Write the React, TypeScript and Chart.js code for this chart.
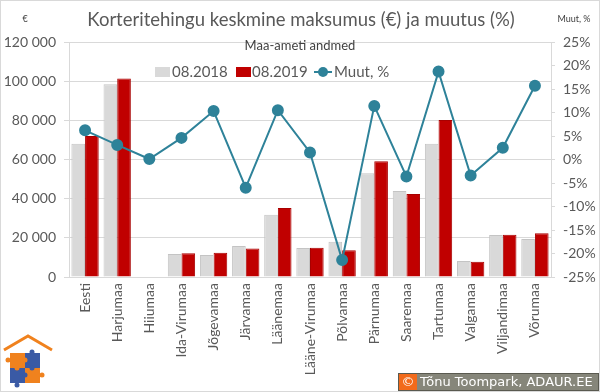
import React, { useEffect, useRef } from "react";
import { Chart, registerables } from "chart.js";

Chart.register(...registerables);

const categories = [
  "Eesti", "Harjumaa", "Hiiumaa", "Ida-Virumaa", "Jõgevamaa", "Järvamaa", "Läänemaa",
  "Lääne-Virumaa", "Põlvamaa", "Pärnumaa", "Saaremaa", "Tartumaa", "Valgamaa", "Viljandimaa", "Võrumaa",
];
const values2018 = [68000, 98400, null, 11700, 11200, 15800, 31800, 14800, 18000, 53000, 43900, 68000, 8200, 21400, 19400];
const values2019 = [72000, 101300, null, 12100, 12400, 14600, 35200, 15000, 13600, 59100, 42400, 80200, 7800, 21600, 22300];
const changePct = [6.2, 3.1, 0.1, 4.6, 10.3, -6.0, 10.5, 1.5, -21.4, 11.4, -3.6, 18.7, -3.4, 2.5, 15.7];

const titleText = "Korteritehingu keskmine maksumus (€) ja muutus (%)";
const subtitleText = "Maa-ameti andmed";
const leftUnit = "€";
const rightUnit = "Muut, %";
const creditText = "Tõnu Toompark, ADAUR.EE";

const FONT = "Lato";
const TXT = "#595959";
const GRID = "#d9d9d9";
const GREY_BAR = "#d9d9d9";
const RED_BAR = "#c00000";
const LINE = "#2e8299";

const fmtThousands = (v: number) => String(v).replace(/\B(?=(\d{3})+(?!\d))/g, " ");

const decorPlugin = {
  id: "decor",
  afterDraw(chart: any) {
    const ctx = chart.ctx as CanvasRenderingContext2D;
    const W = chart.width;
    const H = chart.height;
    ctx.save();
    // title
    ctx.fillStyle = TXT;
    ctx.textAlign = "center";
    ctx.textBaseline = "middle";
    ctx.font = `18.5px ${FONT}`;
    ctx.fillText(titleText, 301, 20);
    ctx.font = `13px ${FONT}`;
    ctx.fillStyle = "#404040";
    ctx.fillText(subtitleText, 300, 46);
    // units
    ctx.fillStyle = "#404040";
    ctx.font = `9px ${FONT}`;
    ctx.fillText(leftUnit, 25, 19);
    ctx.fillText(rightUnit, 574, 19);

    // legend
    const ds = chart.data.datasets;
    const ly = 72;
    ctx.font = `15px ${FONT}`;
    ctx.textAlign = "left";
    ctx.fillStyle = GREY_BAR;
    ctx.fillRect(155, ly - 5, 15, 10);
    ctx.fillStyle = TXT;
    ctx.fillText(ds[0].label, 172, ly);
    ctx.fillStyle = RED_BAR;
    ctx.fillRect(236, ly - 5, 15, 10);
    ctx.fillStyle = TXT;
    ctx.fillText(ds[1].label, 252, ly);
    ctx.strokeStyle = LINE;
    ctx.lineWidth = 2;
    ctx.beginPath();
    ctx.moveTo(314, ly);
    ctx.lineTo(332, ly);
    ctx.stroke();
    ctx.fillStyle = LINE;
    ctx.beginPath();
    ctx.arc(323, ly, 5, 0, Math.PI * 2);
    ctx.fill();
    ctx.fillStyle = TXT;
    ctx.fillText(ds[2].label, 334, ly);

    // logo
    const orange = "#f0821e";
    const blue = "#3a5aa5";
    ctx.strokeStyle = orange;
    ctx.lineWidth = 3;
    ctx.lineJoin = "miter";
    ctx.beginPath();
    ctx.moveTo(4, 350);
    ctx.lineTo(28, 336);
    ctx.lineTo(52, 350);
    ctx.stroke();
    const piece = (x: number, y: number, c: string) => {
      ctx.fillStyle = c;
      ctx.fillRect(x, y, 15, 15);
    };
    piece(10, 353, orange);
    piece(25, 353, blue);
    piece(10, 368, blue);
    piece(25, 368, orange);
    const knob = (x: number, y: number, c: string) => {
      ctx.fillStyle = c;
      ctx.beginPath();
      ctx.arc(x, y, 2.5, 0, Math.PI * 2);
      ctx.fill();
    };
    knob(25, 360, orange);
    knob(32, 368, blue);
    knob(17, 368, orange);
    knob(25, 375, blue);
    knob(8, 360, orange);
    knob(42, 375, orange);
    knob(17, 385, blue);
    knob(32, 352, blue);

    // credit
    const bx = 398, by = 373, bw = 201, bh = 18;
    ctx.fillStyle = "#86867a";
    ctx.fillRect(bx, by, bw, bh);
    ctx.fillStyle = "#f26a1b";
    ctx.fillRect(bx + 1, by + 1, 18, bh - 2);
    ctx.strokeStyle = "#5a5a50";
    ctx.lineWidth = 1;
    ctx.strokeRect(bx + 0.5, by + 0.5, bw - 1, bh - 1);
    ctx.fillStyle = "#ffffff";
    ctx.font = `13px "DejaVu Sans"`;
    ctx.textAlign = "center";
    ctx.fillText("©", bx + 10, by + 9.5);
    ctx.textAlign = "left";
    ctx.fillText(creditText, bx + 22, by + 9.5);

    // border
    ctx.strokeStyle = GRID;
    ctx.strokeRect(0.5, 0.5, W - 1, H - 1);
    ctx.restore();
  },
};

export default function App() {
  const ref = useRef<HTMLCanvasElement | null>(null);
  useEffect(() => {
    if (!ref.current) return;
    const chart = new Chart(ref.current, {
      type: "bar",
      data: {
        labels: categories,
        datasets: [
          {
            type: "bar",
            label: "08.2018",
            data: values2018 as any,
            backgroundColor: GREY_BAR,
            borderColor: "#c4c4c4",
            borderWidth: 1,
            yAxisID: "y",
            order: 2,
            categoryPercentage: 0.85,
            barPercentage: 1,
          },
          {
            type: "bar",
            label: "08.2019",
            data: values2019 as any,
            backgroundColor: RED_BAR,
            borderColor: "#a80000",
            borderWidth: 1,
            yAxisID: "y",
            order: 2,
            categoryPercentage: 0.85,
            barPercentage: 1,
          },
          {
            type: "line",
            label: "Muut, %",
            data: changePct,
            borderColor: LINE,
            backgroundColor: LINE,
            borderWidth: 2,
            pointRadius: 5,
            pointBackgroundColor: LINE,
            pointBorderColor: LINE,
            yAxisID: "y1",
            order: 0,
            tension: 0,
          } as any,
        ],
      },
      options: {
        responsive: false,
        animation: false,
        layout: { padding: { top: 42, left: 0, right: 0, bottom: 0 } },
        plugins: { legend: { display: false }, tooltip: { enabled: false }, title: { display: false } },
        scales: {
          x: {
            grid: { display: false, drawTicks: false },
            border: { display: true, color: GRID },
            ticks: {
              color: TXT,
              font: { family: FONT, size: 14 },
              minRotation: 90,
              maxRotation: 90,
              autoSkip: false,
              padding: 6,
            },
            afterFit: (s: any) => { s.height = 115; },
          },
          y: {
            position: "left",
            min: 0,
            max: 120000,
            grid: { color: GRID, tickLength: 5 },
            border: { display: true, color: GRID },
            ticks: {
              stepSize: 20000,
              color: TXT,
              font: { family: FONT, size: 14 },
              padding: 8,
              callback: (v: any) => fmtThousands(Number(v)),
            },
            afterFit: (s: any) => { s.width = 69; },
          },
          y1: {
            position: "right",
            min: -25,
            max: 25,
            grid: { drawOnChartArea: false, color: GRID, tickLength: 4 },
            border: { display: true, color: GRID },
            ticks: {
              stepSize: 5,
              color: TXT,
              font: { family: FONT, size: 14 },
              padding: 8,
              callback: (v: any) => `${v}%`,
            },
            afterFit: (s: any) => { s.width = 49; },
          },
        },
      },
      plugins: [decorPlugin],
    });
    return () => chart.destroy();
  }, []);
  return (
    <div style={{ position: "fixed", left: 0, top: 0, width: 600, height: 392, background: "#fff" }}>
      <canvas ref={ref} width={600} height={392} style={{ width: 600, height: 392, display: "block" }} />
    </div>
  );
}
